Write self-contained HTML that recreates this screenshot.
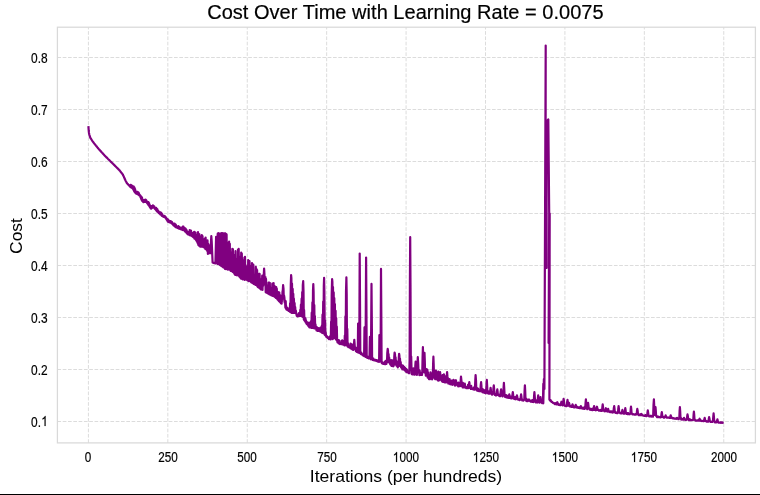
<!DOCTYPE html>
<html><head><meta charset="utf-8"><style>
html,body{margin:0;padding:0;background:#fff;}
body{-webkit-font-smoothing:antialiased;width:760px;height:495px;position:relative;overflow:hidden;font-family:"Liberation Sans",sans-serif;color:#000;}
svg.main{position:absolute;left:0;top:0;}
.t{position:absolute;left:0;top:0;width:760px;height:495px;will-change:transform;}
.xt{-webkit-text-stroke:0.2px #000;position:absolute;top:448.2px;width:80px;text-align:center;font-size:14.1px;line-height:18px;transform:scaleX(0.83);}
.yt{-webkit-text-stroke:0.2px #000;position:absolute;left:0;width:47.6px;text-align:right;font-size:14.1px;line-height:20px;transform:scaleX(0.845);transform-origin:100% 50%;}
.title{-webkit-text-stroke:0.2px #000;letter-spacing:0.03px;position:absolute;left:-0.6px;width:812px;top:-0.8px;text-align:center;font-size:20px;line-height:26px;}
.xl{position:absolute;left:-0.5px;width:812px;top:463.5px;text-align:center;font-size:16.5px;line-height:24px;transform:scaleX(1.065);transform-origin:406px 0;}
.yl{position:absolute;left:4.8px;top:236.2px;font-size:16.6px;line-height:24px;transform-origin:0 0;transform:rotate(-90deg) scaleX(1.05) translate(-50%,0);}
.one{width:0.5562em;height:0.7324em;fill:currentColor;stroke:#000;stroke-width:28;overflow:visible;vertical-align:0;transform:translateY(-0.3px);display:inline;}
.bot{position:absolute;left:0;top:494px;width:760px;height:1px;background:#000;}
</style></head><body>
<svg class="main" width="760" height="495" viewBox="0 0 760 495">
<g stroke="#dcdcdc" stroke-width="1" stroke-dasharray="3.7 1.6" fill="none">
<line x1="88.41" y1="442.90" x2="88.41" y2="27.20"/><line x1="167.83" y1="442.90" x2="167.83" y2="27.20"/><line x1="247.25" y1="442.90" x2="247.25" y2="27.20"/><line x1="326.66" y1="442.90" x2="326.66" y2="27.20"/><line x1="406.08" y1="442.90" x2="406.08" y2="27.20"/><line x1="485.50" y1="442.90" x2="485.50" y2="27.20"/><line x1="564.91" y1="442.90" x2="564.91" y2="27.20"/><line x1="644.33" y1="442.90" x2="644.33" y2="27.20"/><line x1="723.75" y1="442.90" x2="723.75" y2="27.20"/><line x1="57.40" y1="421.50" x2="755.40" y2="421.50"/><line x1="57.40" y1="369.50" x2="755.40" y2="369.50"/><line x1="57.40" y1="317.50" x2="755.40" y2="317.50"/><line x1="57.40" y1="265.50" x2="755.40" y2="265.50"/><line x1="57.40" y1="213.50" x2="755.40" y2="213.50"/><line x1="57.40" y1="161.50" x2="755.40" y2="161.50"/><line x1="57.40" y1="109.50" x2="755.40" y2="109.50"/><line x1="57.40" y1="57.50" x2="755.40" y2="57.50"/>
</g>
<rect x="57.4" y="27.2" width="698.00" height="415.70" fill="none" stroke="#d9d9d9" stroke-width="1.25"/>
<g fill="none" stroke="#800080" stroke-width="2.2" stroke-linejoin="round" stroke-linecap="butt">
<path d="M88.4 126.1 88.7 130.5 89.0 133.0 89.4 135.0 89.7 136.0 90.0 136.8 90.3 137.7 90.6 138.3 91.0 138.8 91.3 139.3 91.6 139.8 91.9 140.3 92.2 140.8 92.5 141.3 92.9 141.7 93.2 142.1 93.5 142.5 93.8 142.9 94.1 143.3 94.4 143.7 94.8 144.1 95.1 144.5 95.4 144.9 95.7 145.3 96.0 145.7 96.4 146.1 96.7 146.5 97.0 146.9 97.3 147.3 97.6 147.7 97.9 148.1 98.3 148.5 98.6 148.8 98.9 149.2 99.2 149.5 99.5 149.9 99.8 150.2 100.2 150.6 100.5 150.9 100.8 151.3 101.1 151.6 101.4 152.0 101.8 152.3 102.1 152.7 102.4 153.0 102.7 153.4 103.0 153.7 103.3 154.1 103.7 154.4 104.0 154.8 104.3 155.1 104.6 155.5 104.9 155.8 105.2 156.1 105.6 156.5 105.9 156.8 106.2 157.1 106.5 157.4 106.8 157.7 107.2 158.0 107.5 158.3 107.8 158.7 108.1 159.0 108.4 159.3 108.7 159.6 109.1 159.9 109.4 160.2 109.7 160.5 110.0 160.8 110.3 161.2 110.6 161.5 111.0 161.8 111.3 162.1 111.6 162.4 111.9 162.7 112.2 163.0 112.6 163.4 112.9 163.7 113.2 164.0 113.5 164.3 113.8 164.6 114.1 164.9 114.5 165.3 114.8 165.6 115.1 165.9 115.4 166.2 115.7 166.5 116.0 166.8 116.4 167.2 116.7 167.5 117.0 167.8 117.3 168.1 117.6 168.4 118.0 168.8 118.3 169.1 118.6 169.4 118.9 169.7 119.2 170.0 119.5 170.4 119.9 170.8 120.2 171.2 120.5 171.6 120.8 172.0 121.1 172.4 121.4 172.8 121.8 173.2 122.1 173.6 122.4 174.0 122.7 174.4 123.0 175.1 123.4 175.8 123.7 176.4 124.0 177.1 124.3 177.8 124.6 178.5 124.9 179.3 125.3 180.0 125.6 180.7 125.9 181.3 126.2 181.8 126.5 182.4 126.8 183.0 127.2 183.5 127.5 183.8 127.8 184.1 128.1 184.4 128.4 184.7 128.8 185.1 129.1 185.4 129.4 185.6 129.7 186.3 130.0 185.6 130.3 186.8 130.7 184.8 131.0 187.3 131.3 185.0 131.6 187.7 131.9 185.5 132.2 188.1 132.6 186.2 132.9 189.0 133.2 187.3 133.5 190.0 133.8 186.5 134.2 191.4 134.5 187.7 134.8 192.2 135.1 189.0 135.4 192.8 135.7 191.2 136.1 193.5 136.4 191.9 136.7 193.7 137.0 192.5 137.3 193.9 137.6 191.8 138.0 194.3 138.3 192.4 138.6 194.9 138.9 193.2 139.2 195.3 139.6 194.7 139.9 195.8 140.2 195.4 140.5 197.2 140.8 196.0 141.1 198.9 141.5 196.8 141.8 200.4 142.1 197.9 142.4 201.2 142.7 199.9 143.0 201.7 143.4 200.4 143.7 202.2 144.0 200.3 144.3 201.9 144.6 200.6 145.0 201.8 145.3 199.5 145.6 201.5 145.9 199.9 146.2 202.0 146.5 200.6 146.9 202.9 147.2 201.8 147.5 203.7 147.8 202.7 148.1 204.6 148.4 202.0 148.8 205.5 149.1 203.1 149.4 206.5 149.7 204.8 150.0 207.4 150.4 205.8 150.7 208.4 151.0 207.5 151.3 208.7 151.6 206.1 151.9 208.1 152.3 205.9 152.6 207.6 152.9 205.3 153.2 206.9 153.5 206.2 153.9 207.5 154.2 206.4 154.5 208.4 154.8 207.5 155.1 209.1 155.4 208.3 155.8 209.8 156.1 207.8 156.4 210.7 156.7 208.6 157.0 211.3 157.3 209.2 157.7 211.9 158.0 210.5 158.3 212.5 158.6 211.3 158.9 213.1 159.3 212.0 159.6 213.6 159.9 212.8 160.2 214.3 160.5 212.3 160.8 214.7 161.2 212.9 161.5 215.3 161.8 213.5 162.1 216.0 162.4 214.9 162.7 216.3 163.1 215.6 163.4 216.7 163.7 215.8 164.0 217.0 164.3 216.0 164.7 217.3 165.0 216.2 165.3 217.6 165.6 217.0 165.9 218.4 166.2 217.9 166.6 219.5 166.9 219.0 167.2 220.6 167.5 219.1 167.8 221.7 168.1 219.7 168.5 221.8 168.8 220.7 169.1 222.1 169.4 220.8 169.7 222.4 170.1 221.6 170.4 222.6 170.7 221.1 171.0 222.7 171.3 221.5 171.6 223.4 172.0 222.0 172.3 223.9 172.6 223.0 172.9 224.5 173.2 223.7 173.5 225.2 173.9 224.1 174.2 225.8 174.5 223.6 174.8 226.3 175.1 224.2 175.5 226.9 175.8 224.6 176.1 227.3 176.4 226.3 176.7 227.5 177.0 226.6 177.4 227.9 177.7 226.3 178.0 228.1 178.3 226.2 178.6 228.4 178.9 226.5 179.3 228.7 179.6 227.2 179.9 228.9 180.2 227.9 180.5 229.1 180.9 228.0 181.2 229.3 181.5 227.8 181.8 229.5 182.1 227.4 182.4 229.9 182.8 226.7 183.1 230.1 183.4 226.6 183.7 230.2 184.0 227.5 184.3 230.5 184.7 228.7 185.0 231.3 185.3 228.3 185.6 232.0 185.9 229.0 186.3 232.6 186.6 230.0 186.9 233.2 187.2 231.5 187.5 234.0 187.8 232.4 188.2 234.5 188.5 232.7 188.8 234.7 189.1 231.8 189.4 235.0 189.7 230.1 190.1 235.3 190.4 230.4 190.7 235.2 191.0 230.5 191.3 235.6 191.7 233.6 192.0 236.0 192.3 234.2 192.6 236.5 192.9 232.8 193.2 237.1 193.6 233.8 193.9 237.6 194.2 231.8 194.5 238.6 194.8 232.1 195.1 239.0 195.5 232.6 195.8 239.8 196.1 235.5 196.4 240.8 196.7 235.0 197.1 241.9 197.4 236.1 197.7 243.3 198.0 232.2 198.3 245.0 198.6 233.8 199.0 245.7 199.3 234.0 199.6 245.5 199.9 236.4 200.2 246.6 200.5 239.0 200.9 245.9 201.2 239.9 201.5 246.6 201.8 235.0 202.1 246.6 202.5 236.1 202.8 246.8 203.1 240.5 203.4 247.1 203.7 241.8 204.0 247.2 204.4 239.2 204.7 247.9 205.0 238.5 205.3 248.9 205.6 237.6 205.9 249.0 206.3 241.6 206.6 249.9 206.9 240.9 207.2 251.0 207.5 240.3 207.9 254.0 208.2 243.9 208.5 253.1 208.8 245.2 209.1 253.2 209.4 249.0 209.8 253.0 210.1 247.8 210.4 253.2 210.7 247.9 211.0 242.0 211.3 236.2 211.7 241.3 212.0 248.5 212.3 255.7 212.6 262.5 212.9 262.6 213.3 262.7 213.6 262.8 213.9 263.0 214.2 263.1 214.5 263.2 214.8 263.3 215.2 263.4 215.5 260.6 215.8 248.7 216.1 236.8 216.4 241.2 216.7 262.4 217.1 246.6 217.4 263.9 217.7 233.7 218.0 263.5 218.3 233.2 218.7 264.1 219.0 233.4 219.3 264.4 219.6 233.8 219.9 265.1 220.2 233.6 220.6 264.7 220.9 234.1 221.2 265.9 221.5 233.2 221.8 266.2 222.1 233.4 222.5 266.8 222.8 233.2 223.1 267.3 223.4 233.4 223.7 267.3 224.1 233.8 224.4 268.0 224.7 233.3 225.0 269.0 225.3 233.4 225.6 269.1 226.0 233.9 226.3 267.9 226.6 234.4 226.9 269.2 227.2 245.2 227.5 269.6 227.9 253.2 228.2 269.2 228.5 242.5 228.8 269.6 229.1 241.7 229.5 269.1 229.8 243.8 230.1 269.9 230.4 262.6 230.7 271.0 231.0 252.8 231.4 270.9 231.7 259.0 232.0 270.9 232.3 248.9 232.6 271.9 232.9 249.2 233.3 272.3 233.6 254.9 233.9 273.0 234.2 257.9 234.5 274.0 234.9 256.3 235.2 275.0 235.5 251.2 235.8 274.3 236.1 265.0 236.4 275.1 236.8 259.9 237.1 275.5 237.4 262.7 237.7 274.8 238.0 249.6 238.4 275.1 238.7 248.9 239.0 276.1 239.3 256.7 239.6 277.0 239.9 257.2 240.3 277.7 240.6 264.7 240.9 278.6 241.2 252.5 241.5 278.5 241.8 253.6 242.2 279.1 242.5 260.1 242.8 279.4 243.1 271.1 243.4 278.6 243.8 264.9 244.1 278.9 244.4 257.5 244.7 279.9 245.0 256.8 245.3 279.4 245.7 265.4 246.0 279.2 246.3 266.7 246.6 279.6 246.9 271.3 247.2 280.2 247.6 273.7 247.9 280.5 248.2 260.0 248.5 281.2 248.8 261.3 249.2 280.9 249.5 261.2 249.8 281.0 250.1 268.3 250.4 281.4 250.7 266.0 251.1 282.3 251.4 267.8 251.7 282.5 252.0 263.0 252.3 283.0 252.6 264.6 253.0 283.3 253.3 264.6 253.6 283.9 253.9 277.2 254.2 284.2 254.6 277.0 254.9 284.2 255.2 276.1 255.5 285.0 255.8 266.8 256.1 284.9 256.5 269.0 256.8 285.5 257.1 270.0 257.4 286.4 257.7 282.0 258.0 287.1 258.4 282.4 258.7 287.5 259.0 273.8 259.3 288.1 259.6 273.8 260.0 288.3 260.3 283.0 260.6 289.3 260.9 279.7 261.2 289.2 261.5 279.1 261.9 289.6 262.2 275.7 262.5 289.9 262.8 279.0 263.1 286.0 263.4 284.8 263.8 274.4 264.1 268.6 264.4 273.2 264.7 282.5 265.0 282.5 265.4 277.1 265.7 292.3 266.0 278.8 266.3 292.6 266.6 287.2 266.9 292.8 267.3 287.9 267.6 293.0 267.9 285.3 268.2 293.6 268.5 282.5 268.8 294.0 269.2 282.5 269.5 294.5 269.8 282.8 270.1 294.6 270.4 290.4 270.8 295.0 271.1 290.6 271.4 295.4 271.7 287.8 272.0 295.5 272.3 283.7 272.7 295.9 273.0 284.1 273.3 296.0 273.6 283.1 273.9 296.3 274.2 290.1 274.6 296.8 274.9 286.3 275.2 297.2 275.5 289.4 275.8 298.0 276.2 287.0 276.5 298.3 276.8 288.7 277.1 298.9 277.4 292.9 277.7 299.7 278.1 295.7 278.4 300.5 278.7 292.2 279.0 301.2 279.3 292.6 279.6 301.8 280.0 295.0 280.3 302.5 280.6 297.4 280.9 303.3 281.2 298.4 281.6 303.6 281.9 295.5 282.2 300.9 282.5 291.8 282.8 290.3 283.1 285.1 283.5 288.6 283.8 298.8 284.1 295.6 284.4 297.6 284.7 302.6 285.0 300.7 285.4 307.7 285.7 301.1 286.0 308.8 286.3 306.4 286.6 309.6 287.0 308.0 287.3 309.9 287.6 308.0 287.9 310.0 288.2 309.9 288.5 310.8 288.9 310.4 289.2 311.1 289.5 309.3 289.8 311.5 290.1 303.4 290.4 312.2 290.8 284.6 291.1 275.2 291.4 278.0 291.7 312.9 292.0 283.6 292.4 312.9 292.7 288.9 293.0 312.9 293.3 293.9 293.6 312.9 293.9 298.7 294.3 312.9 294.6 303.1 294.9 312.9 295.2 307.1 295.5 312.9 295.8 310.5 296.2 312.9 296.5 314.8 296.8 315.9 297.1 314.3 297.4 315.7 297.8 316.3 298.1 316.1 298.4 314.8 298.7 315.7 299.0 313.0 299.3 315.9 299.7 314.3 300.0 315.6 300.3 309.9 300.6 315.9 300.9 304.7 301.2 315.7 301.6 298.7 301.9 316.3 302.2 292.2 302.5 316.8 302.8 285.0 303.2 281.2 303.5 290.8 303.8 319.6 304.1 310.0 304.4 320.5 304.7 317.5 305.1 321.5 305.4 318.2 305.7 322.4 306.0 320.4 306.3 323.5 306.6 323.8 307.0 324.1 307.3 322.3 307.6 324.8 307.9 324.8 308.2 325.7 308.6 326.1 308.9 326.5 309.2 322.5 309.5 327.4 309.8 326.4 310.1 326.9 310.5 323.0 310.8 327.3 311.1 321.1 311.4 328.0 311.7 312.7 312.0 327.5 312.4 302.4 312.7 328.0 313.0 290.5 313.3 284.1 313.6 291.7 314.0 328.3 314.3 305.2 314.6 328.3 314.9 316.2 315.2 328.3 315.5 324.4 315.9 328.3 316.2 328.0 316.5 330.3 316.8 327.2 317.1 330.7 317.5 330.3 317.8 330.9 318.1 328.8 318.4 330.7 318.7 328.0 319.0 330.9 319.4 328.5 319.7 331.2 320.0 330.4 320.3 331.6 320.6 327.7 320.9 331.7 321.3 329.5 321.6 332.5 321.9 325.5 322.2 333.0 322.5 314.7 322.9 333.0 323.2 301.5 323.5 333.5 323.8 286.2 324.1 277.9 324.4 292.1 324.8 334.9 325.1 320.6 325.4 335.4 325.7 332.1 326.0 336.0 326.3 336.9 326.7 336.9 327.0 336.3 327.3 337.5 327.6 338.0 327.9 338.0 328.3 337.3 328.6 338.3 328.9 339.1 329.2 338.9 329.5 337.4 329.8 338.8 330.2 336.1 330.5 339.5 330.8 338.7 331.1 321.7 331.4 338.4 331.7 294.6 332.1 279.2 332.4 281.8 332.7 339.2 333.0 287.0 333.3 336.3 333.7 292.4 334.0 336.7 334.3 298.2 334.6 338.1 334.9 304.2 335.2 338.6 335.6 310.8 335.9 339.5 336.2 318.1 336.5 339.9 336.8 326.6 337.1 340.2 337.5 342.3 337.8 341.2 338.1 342.6 338.4 340.2 338.7 343.5 339.1 340.3 339.4 343.7 339.7 343.8 340.0 344.0 340.3 343.0 340.6 343.8 341.0 343.1 341.3 344.2 341.6 340.9 341.9 344.2 342.2 340.4 342.5 344.5 342.9 341.7 343.2 344.6 343.5 341.0 343.8 344.6 344.1 342.2 344.5 345.3 344.8 335.5 345.1 345.3 345.4 316.4 345.7 345.2 346.0 291.5 346.4 277.4 346.7 294.5 347.0 345.6 347.3 328.9 347.6 346.4 347.9 343.0 348.3 347.1 348.6 347.2 348.9 347.1 349.2 345.5 349.5 347.3 349.9 347.4 350.2 348.0 350.5 343.5 350.8 348.5 351.1 347.4 351.4 348.7 351.8 344.4 352.1 349.3 352.4 346.7 352.7 349.5 353.0 348.5 353.3 349.9 353.7 348.6 354.0 343.5 354.3 339.9 354.6 343.7 354.9 348.6 355.3 349.2 355.6 349.3 355.9 351.1 356.2 347.9 356.5 351.6 356.8 351.8 357.2 351.5 357.5 351.6 357.8 352.3 358.1 323.5 358.4 352.6 358.7 323.5 359.1 352.8 359.4 323.5 359.7 253.6 360.0 299.1 360.3 353.5 360.7 353.2 361.0 354.2 361.3 352.5 361.6 354.3 361.9 353.8 362.2 354.7 362.6 354.8 362.9 355.3 363.2 354.3 363.5 355.7 363.8 355.5 364.1 356.1 364.5 327.4 364.8 356.2 365.1 327.4 365.4 356.8 365.7 327.4 366.1 257.6 366.4 303.0 366.7 357.4 367.0 356.3 367.3 357.8 367.6 356.5 368.0 357.9 368.3 357.6 368.6 358.3 368.9 358.5 369.2 358.5 369.5 357.7 369.9 336.9 370.2 358.2 370.5 336.9 370.8 359.3 371.1 336.9 371.5 283.9 371.8 318.4 372.1 359.2 372.4 359.6 372.7 359.9 373.0 360.0 373.4 358.5 373.7 360.2 374.0 360.0 374.3 360.3 374.6 360.5 374.9 360.5 375.3 359.8 375.6 360.7 375.9 360.0 376.2 360.8 376.5 360.2 376.9 361.2 377.2 360.4 377.5 361.3 377.8 361.4 378.1 361.7 378.4 361.6 378.8 361.8 379.1 361.9 379.4 335.0 379.7 361.3 380.0 335.0 380.3 361.5 380.7 335.0 381.0 268.9 381.3 311.9 381.6 362.6 381.9 363.2 382.3 362.2 382.6 363.6 382.9 362.8 383.2 363.9 383.5 363.8 383.8 363.8 384.2 363.7 384.5 364.0 384.8 361.6 385.1 364.0 385.4 363.0 385.7 364.1 386.1 360.5 386.4 364.0 386.7 360.8 387.0 362.4 387.3 352.8 387.7 348.9 388.0 350.6 388.3 361.1 388.6 354.2 388.9 362.1 389.2 357.7 389.6 363.2 389.9 360.5 390.2 364.3 390.5 361.8 390.8 364.9 391.1 360.1 391.5 365.9 391.8 361.7 392.1 365.5 392.4 360.3 392.7 366.1 393.1 366.0 393.4 366.3 393.7 363.4 394.0 364.9 394.3 356.2 394.6 352.6 395.0 354.2 395.3 363.6 395.6 357.4 395.9 364.6 396.2 360.6 396.5 365.6 396.9 363.8 397.2 366.5 397.5 364.6 397.8 367.5 398.1 361.9 398.5 366.3 398.8 357.5 399.1 353.8 399.4 355.4 399.7 365.1 400.0 358.7 400.4 366.1 400.7 362.0 401.0 367.1 401.3 365.3 401.6 368.1 402.0 366.1 402.3 369.3 402.6 365.3 402.9 369.2 403.2 365.9 403.5 369.0 403.9 366.8 404.2 369.9 404.5 367.8 404.8 370.1 405.1 367.8 405.4 371.0 405.8 371.5 406.1 371.0 406.4 369.1 406.7 372.1 407.0 369.9 407.4 372.1 407.7 371.6 408.0 372.2 408.3 372.2 408.6 373.1 408.9 372.0 409.3 373.1 409.6 360.0 409.9 282.7 410.2 237.2 410.5 285.0 410.8 359.2 411.2 356.6 411.5 369.1 411.8 374.2 412.1 371.8 412.4 374.3 412.8 373.3 413.1 373.9 413.4 368.4 413.7 374.4 414.0 371.8 414.3 374.5 414.7 374.7 415.0 373.6 415.3 366.1 415.6 361.7 415.9 366.3 416.2 373.5 416.6 371.7 416.9 374.9 417.2 370.4 417.5 363.2 417.8 357.2 418.2 363.5 418.5 372.0 418.8 372.9 419.1 370.0 419.4 375.1 419.7 370.6 420.1 375.0 420.4 373.1 420.7 374.8 421.0 373.9 421.3 374.9 421.6 373.2 422.0 375.0 422.3 371.2 422.6 356.7 422.9 347.2 423.2 357.2 423.6 368.5 423.9 372.1 424.2 360.3 424.5 352.8 424.8 360.7 425.1 373.0 425.5 370.8 425.8 375.6 426.1 374.8 426.4 375.5 426.7 369.2 427.0 376.0 427.4 369.9 427.7 377.6 428.0 372.3 428.3 377.3 428.6 375.5 429.0 379.1 429.3 375.2 429.6 378.9 429.9 379.2 430.2 378.1 430.5 372.3 430.9 378.6 431.2 373.3 431.5 378.6 431.8 376.2 432.1 379.4 432.4 377.8 432.8 377.1 433.1 364.2 433.4 356.7 433.7 364.6 434.0 377.0 434.4 376.5 434.7 378.7 435.0 378.7 435.3 379.2 435.6 373.8 435.9 370.6 436.3 373.9 436.6 379.2 436.9 379.0 437.2 379.2 437.5 376.4 437.8 380.4 438.2 371.7 438.5 380.6 438.8 374.7 439.1 380.3 439.4 379.4 439.8 375.0 440.1 372.1 440.4 375.1 440.7 379.8 441.0 379.8 441.3 378.4 441.7 380.7 442.0 380.6 442.3 381.7 442.6 375.0 442.9 381.9 443.2 377.5 443.6 381.5 443.9 374.4 444.2 382.2 444.5 375.8 444.8 382.5 445.2 382.0 445.5 382.1 445.8 382.2 446.1 382.4 446.4 378.9 446.7 376.0 447.1 372.2 447.4 376.2 447.7 377.4 448.0 382.2 448.3 383.5 448.6 383.3 449.0 383.0 449.3 383.7 449.6 379.0 449.9 383.9 450.2 384.2 450.6 384.3 450.9 381.8 451.2 383.9 451.5 380.7 451.8 384.4 452.1 384.0 452.5 384.8 452.8 384.2 453.1 381.7 453.4 379.9 453.7 381.7 454.0 384.5 454.4 384.4 454.7 383.6 455.0 385.6 455.3 380.4 455.6 382.2 456.0 380.4 456.3 382.3 456.6 384.1 456.9 385.0 457.2 383.1 457.5 385.7 457.9 384.5 458.2 386.3 458.5 382.5 458.8 386.2 459.1 384.8 459.4 386.1 459.8 383.6 460.1 386.1 460.4 385.4 460.7 380.1 461.0 376.7 461.4 380.3 461.7 386.0 462.0 385.8 462.3 385.6 462.6 387.3 462.9 382.9 463.3 387.3 463.6 386.2 463.9 387.1 464.2 384.1 464.5 387.3 464.8 383.6 465.2 387.5 465.5 387.0 465.8 387.4 466.1 388.1 466.4 387.6 466.8 386.8 467.1 388.1 467.4 386.7 467.7 388.2 468.0 384.9 468.3 388.1 468.7 385.7 469.0 384.4 469.3 382.2 469.6 384.5 469.9 386.1 470.2 388.1 470.6 387.8 470.9 389.0 471.2 385.9 471.5 388.7 471.8 388.5 472.2 388.9 472.5 389.0 472.8 389.1 473.1 388.9 473.4 389.4 473.7 387.7 474.1 389.6 474.4 389.4 474.7 389.6 475.0 387.2 475.3 380.1 475.6 375.1 476.0 380.4 476.3 388.7 476.6 388.4 476.9 390.5 477.2 390.5 477.6 388.4 477.9 390.8 478.2 388.9 478.5 390.9 478.8 390.6 479.1 391.0 479.5 390.2 479.8 391.2 480.1 391.3 480.4 390.8 480.7 385.4 481.1 382.2 481.4 385.5 481.7 390.8 482.0 390.6 482.3 392.1 482.6 389.0 483.0 392.3 483.3 389.5 483.6 392.3 483.9 392.7 484.2 392.7 484.5 392.8 484.9 392.7 485.2 390.2 485.5 393.2 485.8 393.3 486.1 392.1 486.5 384.4 486.8 379.9 487.1 384.7 487.4 392.0 487.7 390.8 488.0 393.5 488.4 391.4 488.7 393.6 489.0 393.3 489.3 393.7 489.6 393.5 489.9 393.6 490.3 389.9 490.6 387.8 490.9 390.0 491.2 393.5 491.5 393.4 491.9 394.5 492.2 393.9 492.5 394.6 492.8 392.1 493.1 393.8 493.4 388.6 493.8 385.4 494.1 388.7 494.4 393.8 494.7 393.6 495.0 394.9 495.3 394.7 495.7 395.3 496.0 393.9 496.3 395.5 496.6 394.5 496.9 391.4 497.3 389.4 497.6 391.5 497.9 394.9 498.2 394.7 498.5 394.8 498.8 395.7 499.2 395.0 499.5 395.8 499.8 395.6 500.1 396.3 500.4 394.1 500.7 391.7 501.1 389.4 501.4 391.8 501.7 395.7 502.0 395.6 502.3 394.8 502.7 396.5 503.0 395.4 503.3 395.4 503.6 387.5 503.9 382.8 504.2 387.7 504.6 395.4 504.9 395.1 505.2 397.0 505.5 395.6 505.8 397.0 506.1 395.2 506.5 397.5 506.8 396.0 507.1 397.5 507.4 397.6 507.7 397.6 508.1 395.7 508.4 397.6 508.7 397.8 509.0 395.7 509.3 394.4 509.6 395.7 510.0 397.9 510.3 397.8 510.6 396.7 510.9 398.2 511.2 396.5 511.5 398.5 511.9 397.6 512.2 398.2 512.5 394.4 512.8 392.2 513.1 394.5 513.5 398.1 513.8 398.0 514.1 398.9 514.4 397.6 514.7 398.9 515.0 397.1 515.4 399.2 515.7 398.0 516.0 399.3 516.3 397.5 516.6 396.8 516.9 395.4 517.3 396.9 517.6 398.7 517.9 399.1 518.2 399.7 518.5 399.7 518.9 399.5 519.2 399.9 519.5 400.1 519.8 400.0 520.1 398.9 520.4 399.7 520.8 396.3 521.1 394.4 521.4 396.4 521.7 399.6 522.0 399.2 522.3 400.4 522.7 400.4 523.0 400.4 523.3 400.6 523.6 400.4 523.9 400.1 524.3 399.3 524.6 390.6 524.9 385.4 525.2 390.9 525.5 399.2 525.8 398.9 526.2 400.9 526.5 398.9 526.8 401.1 527.1 400.3 527.4 401.2 527.7 400.5 528.1 401.0 528.4 400.0 528.7 400.1 529.0 399.4 529.3 400.1 529.7 400.3 530.0 401.2 530.3 400.7 530.6 401.7 530.9 400.9 531.2 401.6 531.6 401.5 531.9 401.8 532.2 400.1 532.5 401.9 532.8 401.7 533.1 401.8 533.5 402.0 533.8 401.3 534.1 395.5 534.4 392.2 534.7 395.7 535.1 401.3 535.4 401.1 535.7 402.3 536.0 400.3 536.3 402.4 536.6 401.8 537.0 402.2 537.3 402.5 537.6 402.0 537.9 397.9 538.2 395.4 538.5 398.0 538.9 402.0 539.2 401.0 539.5 402.7 539.8 402.5 540.1 399.1 540.5 397.2 540.8 399.2 541.1 401.4 541.4 402.3 541.7 402.5 542.0 403.1 542.4 402.6 542.7 403.1 543.0 400.4 543.3 383.8 543.3 403.3 543.9 379.0 544.4 389.0 545.7 45.6 545.5 268.0 546.6 268.0 546.6 121.0 547.6 120.5 548.3 119.5 549.2 213.0 548.6 343.0 549.7 213.5 549.4 399.5 550.6 401.0 550.6 400.1 550.9 401.3 551.3 401.1 551.6 401.8 551.9 402.0 552.2 402.3 552.5 402.2 552.8 402.7 553.2 402.9 553.5 403.0 553.8 403.3 554.1 403.4 554.4 403.5 554.7 404.0 555.1 403.1 555.4 404.0 555.7 403.9 556.0 404.2 556.3 403.8 556.7 404.4 557.0 403.0 557.3 402.2 557.6 403.0 557.9 404.4 558.2 404.0 558.6 404.8 558.9 404.3 559.2 404.9 559.5 404.4 559.8 405.1 560.1 404.8 560.5 405.2 560.8 404.8 561.1 402.9 561.4 401.7 561.7 403.0 562.1 404.7 562.4 405.1 562.7 405.4 563.0 405.2 563.3 401.2 563.6 398.9 564.0 401.3 564.3 405.1 564.6 405.0 564.9 405.9 565.2 405.7 565.6 406.0 565.9 406.1 566.2 406.0 566.5 406.1 566.8 405.8 567.1 402.1 567.5 399.9 567.8 402.2 568.1 405.7 568.4 405.6 568.7 404.1 569.0 402.8 569.4 404.1 569.7 406.3 570.0 406.2 570.3 405.9 570.6 406.7 571.0 406.1 571.3 406.8 571.6 406.4 571.9 406.9 572.2 405.3 572.5 404.4 572.9 405.3 573.2 406.8 573.5 406.4 573.8 407.3 574.1 407.3 574.4 407.2 574.8 407.4 575.1 407.3 575.4 405.8 575.7 404.9 576.0 405.9 576.4 407.3 576.7 407.3 577.0 407.6 577.3 406.8 577.6 407.7 577.9 407.5 578.3 407.8 578.6 407.4 578.9 407.9 579.2 407.3 579.5 408.1 579.8 407.3 580.2 408.1 580.5 406.8 580.8 406.1 581.1 406.9 581.4 408.1 581.8 408.1 582.1 408.5 582.4 408.4 582.7 408.6 583.0 407.7 583.3 408.7 583.7 407.7 584.0 408.8 584.3 408.0 584.6 408.9 584.9 408.4 585.2 408.1 585.6 402.6 585.9 399.4 586.2 402.8 586.5 408.1 586.8 407.9 587.2 409.3 587.5 408.8 587.8 405.0 588.1 402.8 588.4 405.1 588.7 408.4 589.1 408.7 589.4 408.9 589.7 409.6 590.0 408.5 590.3 409.7 590.6 409.8 591.0 409.8 591.3 409.4 591.6 409.9 591.9 408.9 592.2 410.1 592.6 409.0 592.9 410.0 593.2 409.3 593.5 409.8 593.8 407.4 594.1 406.1 594.5 407.5 594.8 409.8 595.1 409.7 595.4 410.2 595.7 410.3 596.0 410.3 596.4 409.9 596.7 407.9 597.0 406.7 597.3 408.0 597.6 409.8 598.0 410.0 598.3 409.6 598.6 410.5 598.9 410.0 599.2 410.7 599.5 410.3 599.9 410.7 600.2 410.7 600.5 410.8 600.8 409.8 601.1 410.8 601.4 410.5 601.8 410.9 602.1 410.3 602.4 406.6 602.7 404.4 603.0 406.7 603.4 410.3 603.7 410.1 604.0 410.1 604.3 411.2 604.6 411.3 604.9 411.3 605.3 411.2 605.6 409.3 605.9 408.2 606.2 409.4 606.5 411.2 606.8 411.1 607.2 410.8 607.5 411.5 607.8 409.8 608.1 408.9 608.4 409.9 608.8 411.5 609.1 411.5 609.4 412.0 609.7 412.0 610.0 412.1 610.3 411.5 610.7 412.1 611.0 411.3 611.3 412.1 611.6 411.7 611.9 412.4 612.2 411.5 612.6 412.5 612.9 411.6 613.2 412.4 613.5 411.7 613.8 408.3 614.2 406.1 614.5 408.4 614.8 412.0 615.1 411.9 615.4 412.8 615.7 412.9 616.1 412.4 616.4 412.9 616.7 412.6 617.0 413.0 617.3 412.3 617.6 413.1 618.0 412.5 618.3 408.4 618.6 406.1 618.9 408.6 619.2 412.5 619.6 412.3 619.9 412.6 620.2 413.2 620.5 413.0 620.8 413.4 621.1 413.5 621.5 413.5 621.8 413.3 622.1 411.2 622.4 409.9 622.7 411.2 623.0 413.1 623.4 413.2 623.7 413.7 624.0 413.8 624.3 413.3 624.6 413.3 625.0 410.1 625.3 408.2 625.6 410.2 625.9 413.3 626.2 413.2 626.5 413.9 626.9 413.7 627.2 414.0 627.5 413.1 627.8 414.0 628.1 413.1 628.4 414.1 628.8 414.1 629.1 414.1 629.4 414.2 629.7 414.3 630.0 413.9 630.4 413.6 630.7 409.2 631.0 406.7 631.3 409.4 631.6 413.5 631.9 413.4 632.3 414.4 632.6 414.4 632.9 414.4 633.2 414.4 633.5 414.4 633.8 414.1 634.2 414.6 634.5 414.6 634.8 414.6 635.1 414.4 635.4 414.6 635.8 414.0 636.1 414.6 636.4 414.4 636.7 414.3 637.0 410.9 637.3 408.9 637.7 411.0 638.0 414.3 638.3 414.2 638.6 415.1 638.9 414.5 639.2 415.2 639.6 415.1 639.9 415.1 640.2 414.4 640.5 415.2 640.8 414.4 641.2 413.9 641.5 414.3 641.8 415.2 642.1 414.5 642.4 415.4 642.7 415.4 643.1 415.5 643.4 415.6 643.7 415.6 644.0 415.6 644.3 415.8 644.7 415.3 645.0 415.9 645.3 415.1 645.6 415.9 645.9 415.8 646.2 416.1 646.6 415.4 646.9 416.0 647.2 415.3 647.5 412.4 647.8 410.4 648.1 412.5 648.5 415.3 648.8 415.5 649.1 416.3 649.4 416.2 649.7 416.4 650.1 416.3 650.4 416.3 650.7 416.4 651.0 415.7 651.3 416.6 651.6 416.4 652.0 416.5 652.3 416.3 652.6 416.7 652.9 416.7 653.2 415.1 653.5 405.2 653.9 399.4 654.2 405.5 654.5 415.0 654.8 414.7 655.1 410.4 655.5 407.2 655.8 410.6 656.1 415.9 656.4 415.8 656.7 416.4 657.0 417.1 657.4 417.2 657.7 417.1 658.0 416.5 658.3 417.2 658.6 416.9 658.9 417.2 659.3 417.3 659.6 417.2 659.9 416.8 660.2 417.3 660.5 417.4 660.9 417.3 661.2 416.9 661.5 413.9 661.8 412.2 662.1 414.0 662.4 416.9 662.8 416.8 663.1 416.6 663.4 417.5 663.7 417.2 664.0 417.6 664.3 417.1 664.7 417.5 665.0 416.9 665.3 416.2 665.6 415.4 665.9 416.2 666.3 416.7 666.6 417.3 666.9 417.6 667.2 417.7 667.5 417.5 667.8 417.7 668.2 417.6 668.5 417.7 668.8 417.7 669.1 417.8 669.4 417.4 669.7 417.8 670.1 417.9 670.4 416.4 670.7 415.4 671.0 416.4 671.3 417.6 671.7 417.9 672.0 417.8 672.3 418.2 672.6 417.9 672.9 418.4 673.2 418.5 673.6 418.4 673.9 418.2 674.2 418.6 674.5 418.7 674.8 418.6 675.1 418.5 675.5 418.7 675.8 418.7 676.1 418.9 676.4 418.1 676.7 418.2 677.1 417.8 677.4 418.2 677.7 418.5 678.0 419.0 678.3 418.7 678.6 419.2 679.0 418.7 679.3 418.2 679.6 411.2 679.9 407.2 680.2 411.5 680.5 418.1 680.9 417.9 681.2 419.5 681.5 418.7 681.8 419.6 682.1 419.0 682.5 419.5 682.8 419.5 683.1 419.7 683.4 419.4 683.7 418.4 684.0 417.8 684.4 418.5 684.7 419.6 685.0 419.5 685.3 419.6 685.6 419.8 685.9 419.8 686.3 419.9 686.6 419.1 686.9 419.4 687.2 416.2 687.5 414.4 687.9 416.3 688.2 419.4 688.5 419.3 688.8 420.1 689.1 419.5 689.4 420.0 689.8 419.2 690.1 420.1 690.4 419.7 690.7 420.1 691.0 419.9 691.3 420.1 691.7 420.1 692.0 420.2 692.3 420.2 692.6 420.2 692.9 420.0 693.3 419.6 693.6 414.5 693.9 411.6 694.2 414.7 694.5 419.5 694.8 419.4 695.2 420.4 695.5 420.3 695.8 420.6 696.1 420.5 696.4 420.5 696.7 420.3 697.1 420.7 697.4 420.6 697.7 420.6 698.0 420.2 698.3 420.7 698.7 420.7 699.0 420.6 699.3 419.4 699.6 418.7 699.9 419.4 700.2 420.6 700.6 420.5 700.9 420.9 701.2 420.7 701.5 421.0 701.8 420.7 702.1 421.0 702.5 421.0 702.8 421.0 703.1 421.2 703.4 421.1 703.7 420.5 704.1 421.0 704.4 419.0 704.7 417.9 705.0 419.1 705.3 420.9 705.6 420.9 706.0 421.3 706.3 421.3 706.6 421.5 706.9 421.1 707.2 421.5 707.5 421.3 707.9 421.6 708.2 421.6 708.5 421.3 708.8 418.6 709.1 417.1 709.5 418.7 709.8 421.2 710.1 421.2 710.4 421.8 710.7 421.4 711.0 421.9 711.4 421.9 711.7 422.0 712.0 421.9 712.3 422.0 712.6 421.6 712.9 421.3 713.3 416.4 713.6 413.4 713.9 416.5 714.2 421.3 714.5 421.1 714.9 422.3 715.2 422.2 715.5 422.4 715.8 421.8 716.1 422.4 716.4 421.9 716.8 422.2 717.1 420.5 717.4 419.4 717.7 420.5 718.0 422.2 718.3 422.2 718.7 422.6 719.0 422.4 719.3 422.6 719.6 422.7 719.9 422.6 720.3 422.5 720.6 422.8 720.9 422.3 721.2 422.8 721.5 422.3 721.8 422.4 722.2 422.5 722.5 422.8 722.8 422.5 723.1 423.0 723.4 422.9"/>
</g>

</svg>
<div class="t"><div class="title">Cost Over Time with Learning Rate = 0.0075</div>
<div class="xt" style="left:48.41px">0</div><div class="xt" style="left:127.83px">250</div><div class="xt" style="left:207.25px">500</div><div class="xt" style="left:286.66px">750</div><div class="xt" style="left:366.08px"><svg class="one" viewBox="0 -1500 1139 1500"><path transform="scale(1,-1)" d="M763 0L583 0L583 1147Q518 1085 415 1024.5Q312 964 223 931L223 1105Q374 1176 486.5 1276.5Q599 1377 647 1472L763 1472Z"/></svg>000</div><div class="xt" style="left:445.50px"><svg class="one" viewBox="0 -1500 1139 1500"><path transform="scale(1,-1)" d="M763 0L583 0L583 1147Q518 1085 415 1024.5Q312 964 223 931L223 1105Q374 1176 486.5 1276.5Q599 1377 647 1472L763 1472Z"/></svg>250</div><div class="xt" style="left:524.91px"><svg class="one" viewBox="0 -1500 1139 1500"><path transform="scale(1,-1)" d="M763 0L583 0L583 1147Q518 1085 415 1024.5Q312 964 223 931L223 1105Q374 1176 486.5 1276.5Q599 1377 647 1472L763 1472Z"/></svg>500</div><div class="xt" style="left:604.33px"><svg class="one" viewBox="0 -1500 1139 1500"><path transform="scale(1,-1)" d="M763 0L583 0L583 1147Q518 1085 415 1024.5Q312 964 223 931L223 1105Q374 1176 486.5 1276.5Q599 1377 647 1472L763 1472Z"/></svg>750</div><div class="xt" style="left:683.75px">2000</div>
<div class="yt" style="top:411.50px">0.<svg class="one" viewBox="0 -1500 1139 1500"><path transform="scale(1,-1)" d="M763 0L583 0L583 1147Q518 1085 415 1024.5Q312 964 223 931L223 1105Q374 1176 486.5 1276.5Q599 1377 647 1472L763 1472Z"/></svg></div><div class="yt" style="top:359.50px">0.2</div><div class="yt" style="top:307.50px">0.3</div><div class="yt" style="top:255.50px">0.4</div><div class="yt" style="top:203.50px">0.5</div><div class="yt" style="top:151.50px">0.6</div><div class="yt" style="top:99.50px">0.7</div><div class="yt" style="top:47.50px">0.8</div>
<div class="xl">Iterations (per hundreds)</div>
<div class="yl">Cost</div></div>
<div class="bot"></div>
</body></html>
